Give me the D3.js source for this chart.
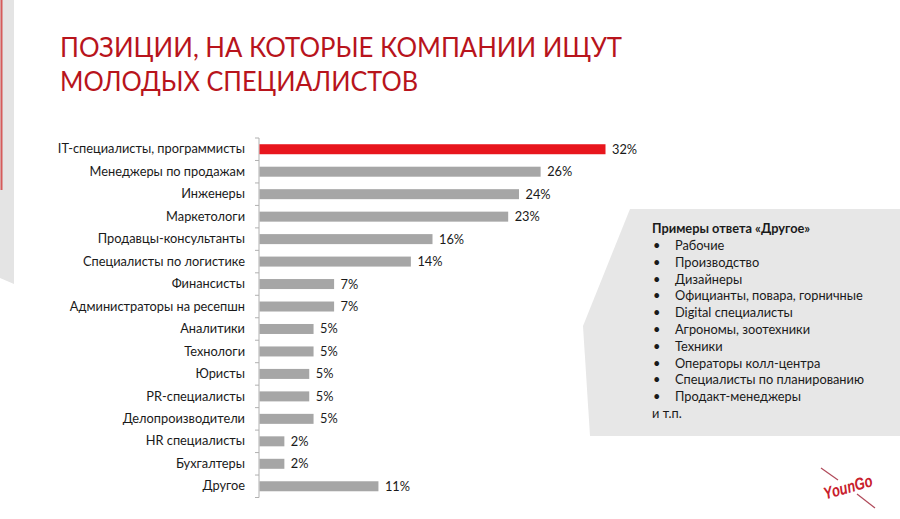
<!DOCTYPE html>
<html>
<head>
<meta charset="utf-8">
<script src="https://cdn.jsdelivr.net/npm/d3@7"></script>
<style>
  html, body { margin: 0; padding: 0; background: #fff; }
  svg { display: block; font-family: Lato, "Open Sans", sans-serif; }
</style>
</head>
<body>
<div id="chart"></div>
<script>
// positions asked for
const categories = [
  'IT-специалисты, программисты',
  'Менеджеры по продажам',
  'Инженеры',
  'Маркетологи',
  'Продавцы-консультанты',
  'Специалисты по логистике',
  'Финансисты',
  'Администраторы на ресепшн',
  'Аналитики',
  'Технологи',
  'Юристы',
  'PR-специалисты',
  'Делопроизводители',
  'HR специалисты',
  'Бухгалтеры',
  'Другое'
];
// share of companies, %
const values = [32, 26, 24, 23, 16, 14, 6.9, 6.9, 5, 5, 4.6, 4.6, 5, 2.3, 2.3, 11];

const otherTitle = 'Примеры ответа «Другое»';
const otherItems = [
  'Рабочие',
  'Производство',
  'Дизайнеры',
  'Официанты, повара, горничные',
  'Digital специалисты',
  'Агрономы, зоотехники',
  'Техники',
  'Операторы колл-центра',
  'Специалисты по планированию',
  'Продакт-менеджеры'
];
const otherTail = 'и т.п.';

const titleLines = ['ПОЗИЦИИ, НА КОТОРЫЕ КОМПАНИИ ИЩУТ', 'МОЛОДЫХ СПЕЦИАЛИСТОВ'];
const titleWidths = [562, 358];

const width = 900, height = 519;
const svg = d3.select('#chart').append('svg')
  .attr('width', width)
  .attr('height', height);

// left slide decoration
svg.append('polygon')
  .attr('points', '0,0 14,0 14,284 0,278')
  .attr('fill', '#e4e4e4');
svg.append('line')
  .attr('x1', 1.5).attr('x2', 1.5).attr('y1', 0).attr('y2', 190)
  .attr('stroke', '#d23a3a').attr('stroke-width', 2).attr('opacity', 0.8);

// title
svg.append('g').selectAll('text')
  .data(titleLines)
  .enter().append('text')
  .attr('x', 60)
  .attr('y', (d, i) => 57 + i * 34)
  .attr('fill', '#b8141c')
  .attr('font-size', 27)
  .attr('textLength', (d, i) => titleWidths[i])
  .attr('lengthAdjust', 'spacingAndGlyphs')
  .text(d => d);

// scales
const x = d3.scaleLinear().domain([0, 32]).range([259, 605]);
const y = d3.scaleBand().domain(categories).range([138, 497.5]);
const barH = 10;

const chart = svg.append('g');

// category labels
const yAxis = d3.axisLeft(y).tickSize(0).tickPadding(14);
chart.append('g')
  .attr('transform', `translate(${x(0)},0)`)
  .call(yAxis)
  .call(g => g.select('.domain').remove())
  .selectAll('text')
  .attr('font-family', 'Lato, "Open Sans", sans-serif')
  .attr('font-size', 12.8)
  .attr('fill', '#1a1a1a');

// axis line with ticks between categories
const bounds = categories.map(c => y(c)).concat([y.range()[1]]);
chart.append('line')
  .attr('x1', x(0)).attr('x2', x(0))
  .attr('y1', y.range()[0]).attr('y2', y.range()[1])
  .attr('stroke', '#b0b0b0');
chart.append('g').selectAll('line')
  .data(bounds)
  .enter().append('line')
  .attr('x1', x(0) - 4).attr('x2', x(0))
  .attr('y1', d => d).attr('y2', d => d)
  .attr('stroke', '#b0b0b0');

// bars
chart.append('g').selectAll('rect')
  .data(values)
  .enter().append('rect')
  .attr('x', x(0) + 0.5)
  .attr('y', (d, i) => y(categories[i]) + y.bandwidth() / 2 - barH / 2)
  .attr('width', d => x(d) - x(0))
  .attr('height', barH)
  .attr('fill', (d, i) => i === 0 ? '#e8161d' : '#a6a6a6');

// value labels
chart.append('g').selectAll('text')
  .data(values)
  .enter().append('text')
  .attr('x', d => x(d) + 7)
  .attr('y', (d, i) => y(categories[i]) + y.bandwidth() / 2)
  .attr('dy', '0.35em')
  .attr('font-size', 12.8)
  .attr('fill', '#1a1a1a')
  .text(d => Math.round(d) + '%');

// "other" panel
svg.append('polygon')
  .attr('points', '630,209 900,209 900,436 590,436 583,326')
  .attr('fill', '#e7e7e7');

const panel = svg.append('g').attr('font-size', 12.8).attr('fill', '#1a1a1a');
panel.append('text')
  .attr('x', 652).attr('y', 233)
  .attr('font-weight', 'bold')
  .text(otherTitle);
const step = 16.8;
panel.selectAll('.item')
  .data(otherItems)
  .enter().append('g')
  .attr('class', 'item')
  .attr('transform', (d, i) => `translate(0,${250 + i * step})`)
  .call(g => g.append('text').attr('x', 653).text('•'))
  .call(g => g.append('text').attr('x', 675).text(d => d));
panel.append('text')
  .attr('x', 652).attr('y', 250 + otherItems.length * step)
  .text(otherTail);

// logo
svg.append('line')
  .attr('x1', 821).attr('y1', 468).attr('x2', 838).attr('y2', 480)
  .attr('stroke', '#b04a5a').attr('stroke-width', 1.2);
svg.append('line')
  .attr('x1', 857).attr('y1', 494).attr('x2', 875).attr('y2', 508)
  .attr('stroke', '#b04a5a').attr('stroke-width', 1.2);
const logo = svg.append('g').attr('transform', 'translate(848,487) rotate(-16)');
logo.append('text')
  .attr('text-anchor', 'middle')
  .attr('dy', '0.35em')
  .attr('font-family', '"Liberation Sans Narrow", "Liberation Sans", sans-serif')
  .attr('font-style', 'italic')
  .attr('font-weight', 'bold')
  .attr('font-size', 17)
  .attr('textLength', 50)
  .attr('lengthAdjust', 'spacingAndGlyphs')
  .attr('fill', '#c8202c')
  .text('YounGo');
</script>
</body>
</html>
